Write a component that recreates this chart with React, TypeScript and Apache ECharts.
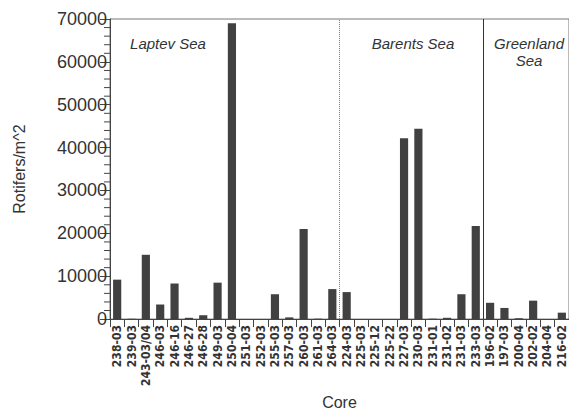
import React, { useEffect, useRef } from "react";
import * as echarts from "echarts";

const cores = [
  "238-03", "239-03", "243-03/04", "246-03", "246-16", "246-27", "246-28", "249-03",
  "250-04", "251-03", "252-03", "255-03", "257-03", "260-03", "261-03", "264-03",
  "224-03", "225-03", "225-12", "225-22", "227-03", "230-03", "231-01", "231-02",
  "231-03", "233-03", "196-02", "197-03", "200-04", "202-02", "204-04", "216-02",
];

const rotifers = [
  9200, 100, 15000, 3400, 8300, 300, 900, 8500,
  69000, 0, 0, 5800, 400, 21000, 100, 7000,
  6300, 0, 0, 0, 42200, 44400, 100, 300,
  5800, 21700, 3800, 2600, 200, 4300, 0, 1500,
];

// region boundaries (category index where a new sea starts)
const dottedBoundary = [16];
const solidBoundary = [26];

const seaLabels = ["Laptev Sea", "Barents Sea", "Greenland\nSea"];

const yMin = 0;
const yMax = 70000;
const yInterval = 10000;
const yMinorInterval = 2000;

const minorTickValues: number[] = [];
for (let v = yMin; v <= yMax; v += yMinorInterval) {
  if (v % yInterval !== 0) minorTickValues.push(v);
}

export default function App() {
  const ref = useRef<HTMLDivElement>(null);
  useEffect(() => {
    document.body.style.margin = "0";
    const chart = echarts.init(ref.current!, null, { renderer: "svg" });
    const textColor = "#333";
    const sans = "Helvetica, Arial, 'Liberation Sans', sans-serif";
    chart.setOption({
      animation: false,
      backgroundColor: "#fff",
      grid: {
        left: 110,
        top: 19,
        width: 462,
        height: 310,
        show: true,
        borderColor: "#777",
        borderWidth: 1,
        backgroundColor: "transparent",
      },
      xAxis: [
        {
          type: "category",
          data: cores,
          name: "Core",
          nameLocation: "middle",
          nameGap: 68,
          nameTextStyle: { fontSize: 16, color: textColor, fontFamily: sans },
          axisLine: { lineStyle: { color: "#444", width: 1 } },
          axisTick: { show: true, length: 8, inside: false, lineStyle: { color: "#444" } },
          axisLabel: {
            interval: 0,
            rotate: 90,
            margin: 6,
            fontSize: 12,
            fontWeight: "bold",
            color: "#333",
            fontFamily: "'Liberation Sans Narrow', 'Arial Narrow', 'DejaVu Sans Condensed', sans-serif",
          },
        },
        {
          type: "value",
          min: 0,
          max: cores.length,
          show: false,
          position: "bottom",
        },
      ],
      yAxis: {
        type: "value",
        min: yMin,
        max: yMax,
        interval: yInterval,
        name: "Rotifers/m^2",
        nameLocation: "middle",
        nameGap: 83,
        nameTextStyle: { fontSize: 16, color: textColor, fontFamily: sans },
        axisLine: { show: true, lineStyle: { color: "#444", width: 1 } },
        axisTick: { show: true, length: 10, lineStyle: { color: "#444", width: 1 } },
        splitLine: { show: false },
        axisLabel: {
          fontSize: 18,
          color: textColor,
          margin: 3,
          fontFamily: sans,
          formatter: (v: number) => String(v),
        },
      },
      series: [
        {
          type: "bar",
          data: rotifers,
          barWidth: "57%",
          itemStyle: { color: "#414141" },
          silent: true,
        },
        {
          type: "custom",
          xAxisIndex: 1,
          yAxisIndex: 0,
          silent: true,
          clip: false,
          z: 10,
          data: minorTickValues.map((v) => [0, v]),
          encode: { x: 0, y: 1 },
          renderItem: (params: any, api: any) => {
            const p = api.coord([0, api.value(1)]);
            return {
              type: "rect",
              shape: { x: p[0] - 6, y: p[1] - 0.5, width: 6, height: 1 },
              style: { fill: "#444" },
            };
          },
        },
        {
          type: "line",
          xAxisIndex: 1,
          data: [],
          silent: true,
          markLine: {
            silent: true,
            symbol: "none",
            label: { show: false },
            data: [
              ...dottedBoundary.map((b) => ({
                xAxis: b,
                lineStyle: { color: "#777", width: 1, type: [1, 1] },
              })),
              ...solidBoundary.map((b) => ({
                xAxis: b,
                lineStyle: { color: "#333", width: 1, type: "solid" },
              })),
            ],
          },
        },
      ],
      graphic: [
        {
          type: "text",
          x: 168,
          y: 43,
          style: {
            text: seaLabels[0],
            font: "italic 15px " + sans,
            fill: textColor,
            align: "center",
            verticalAlign: "middle",
          },
        },
        {
          type: "text",
          x: 413,
          y: 43,
          style: {
            text: seaLabels[1],
            font: "italic 15px " + sans,
            fill: textColor,
            align: "center",
            verticalAlign: "middle",
          },
        },
        {
          type: "text",
          x: 529,
          y: 52,
          style: {
            text: seaLabels[2],
            font: "italic 15px " + sans,
            fill: textColor,
            align: "center",
            verticalAlign: "middle",
            lineHeight: 17,
          },
        },
      ],
    });
    return () => chart.dispose();
  }, []);
  return <div ref={ref} style={{ width: 569, height: 415 }} />;
}
